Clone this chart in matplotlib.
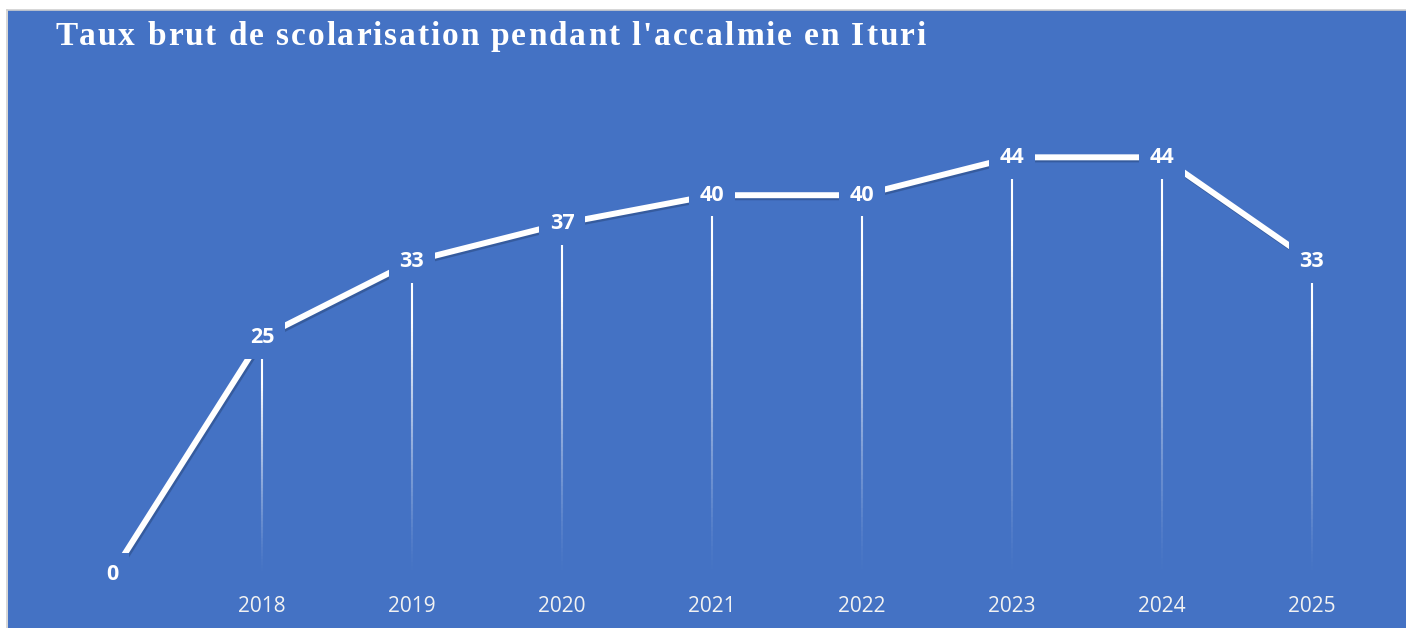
import matplotlib
matplotlib.use("Agg")
import matplotlib.pyplot as plt
import matplotlib.patheffects as pe
from matplotlib.collections import LineCollection
from matplotlib.patches import Rectangle
from matplotlib.lines import Line2D
from matplotlib.font_manager import FontProperties, findfont
from matplotlib.ft2font import FT2Font
import numpy as np

# données
annees = ['', '2018', '2019', '2020', '2021', '2022', '2023', '2024', '2025']
taux = [0, 25, 33, 37, 40, 40, 44, 44, 33]
titre = "Taux brut de scolarisation pendant l'accalmie en Ituri"

BLEU = '#4472C4'
W, H = 1406, 628

fig = plt.figure(figsize=(W / 100, H / 100), dpi=100, facecolor='white')

# fond bleu du graphique avec bord gris à gauche et en haut
fig.patches.append(Rectangle((8 / W, 0), 1 - 8 / W, 1 - 10 / H, transform=fig.transFigure,
                             facecolor=BLEU, edgecolor='none', zorder=-5))
fig.lines.append(Line2D([7.5 / W, 7.5 / W], [0, 1 - 9.5 / H], transform=fig.transFigure,
                        color='#CFCFCF', lw=1.2, zorder=-4))
fig.lines.append(Line2D([7.5 / W, 1], [1 - 9.5 / H, 1 - 9.5 / H], transform=fig.transFigure,
                        color='#CFCFCF', lw=1.2, zorder=-4))

ax = fig.add_axes([37 / W, (H - 574) / H, 1350 / W, 473.5 / H])
ax.set_facecolor('none')
x = np.arange(len(annees))

# lignes verticales en dégradé
n = 80
for xi, v in zip(x, taux):
    if v == 0:
        continue
    ys = np.linspace(0, v, n + 1)
    segs = [[(xi, ys[k]), (xi, ys[k + 1])] for k in range(n)]
    t = (ys[:-1] + ys[1:]) / 2 / v
    cols = [(1, 1, 1, min(1.0, 1.25 * tt) ** 1.3) for tt in t]
    ax.add_collection(LineCollection(segs, colors=cols, linewidths=1.5, zorder=2))

ax.plot(x, taux, color='white', lw=4.3, solid_capstyle='butt', zorder=3,
        path_effects=[pe.SimpleLineShadow(offset=(1.2, -1.5), shadow_color='#2F528F', alpha=0.7),
                      pe.Normal()])

for xi, v in zip(x, taux):
    ax.text(xi, v, str(v), ha='center', va='center', color='white', fontsize=15.5,
            fontweight='bold', family='Open Sans', zorder=5,
            bbox=dict(boxstyle='square,pad=0.5', facecolor=BLEU, edgecolor='none'))

ax.set_xlim(-0.5, len(annees) - 0.5)
ax.set_ylim(0, 50)
ax.set_xticks(x)
ax.set_xticklabels(annees, color='#F2F2F2', fontsize=15, family='Open Sans')
ax.tick_params(axis='x', length=0, pad=16)
ax.set_yticks([])
for s in ax.spines.values():
    s.set_visible(False)

# titre avec espacement des lettres
taille = 24
fp = FontProperties(family='Liberation Serif', weight='bold')
ft = FT2Font(findfont(fp))
ft.set_size(taille, 100)
avances = [ft.load_char(ord(c)).linearHoriAdvance / 65536 for c in titre]
esp = (866 - sum(avances[:-1]) - avances[-1] * 0.5) / (len(titre) - 1)
xp = 55
for c, a in zip(titre, avances):
    if c != ' ':
        fig.text(xp / W, 1 - 45 / H, c, ha='left', va='baseline', fontproperties=fp,
                 fontsize=taille, color='white')
    xp += a + esp

fig.savefig('out.png', dpi=100, facecolor='white')
